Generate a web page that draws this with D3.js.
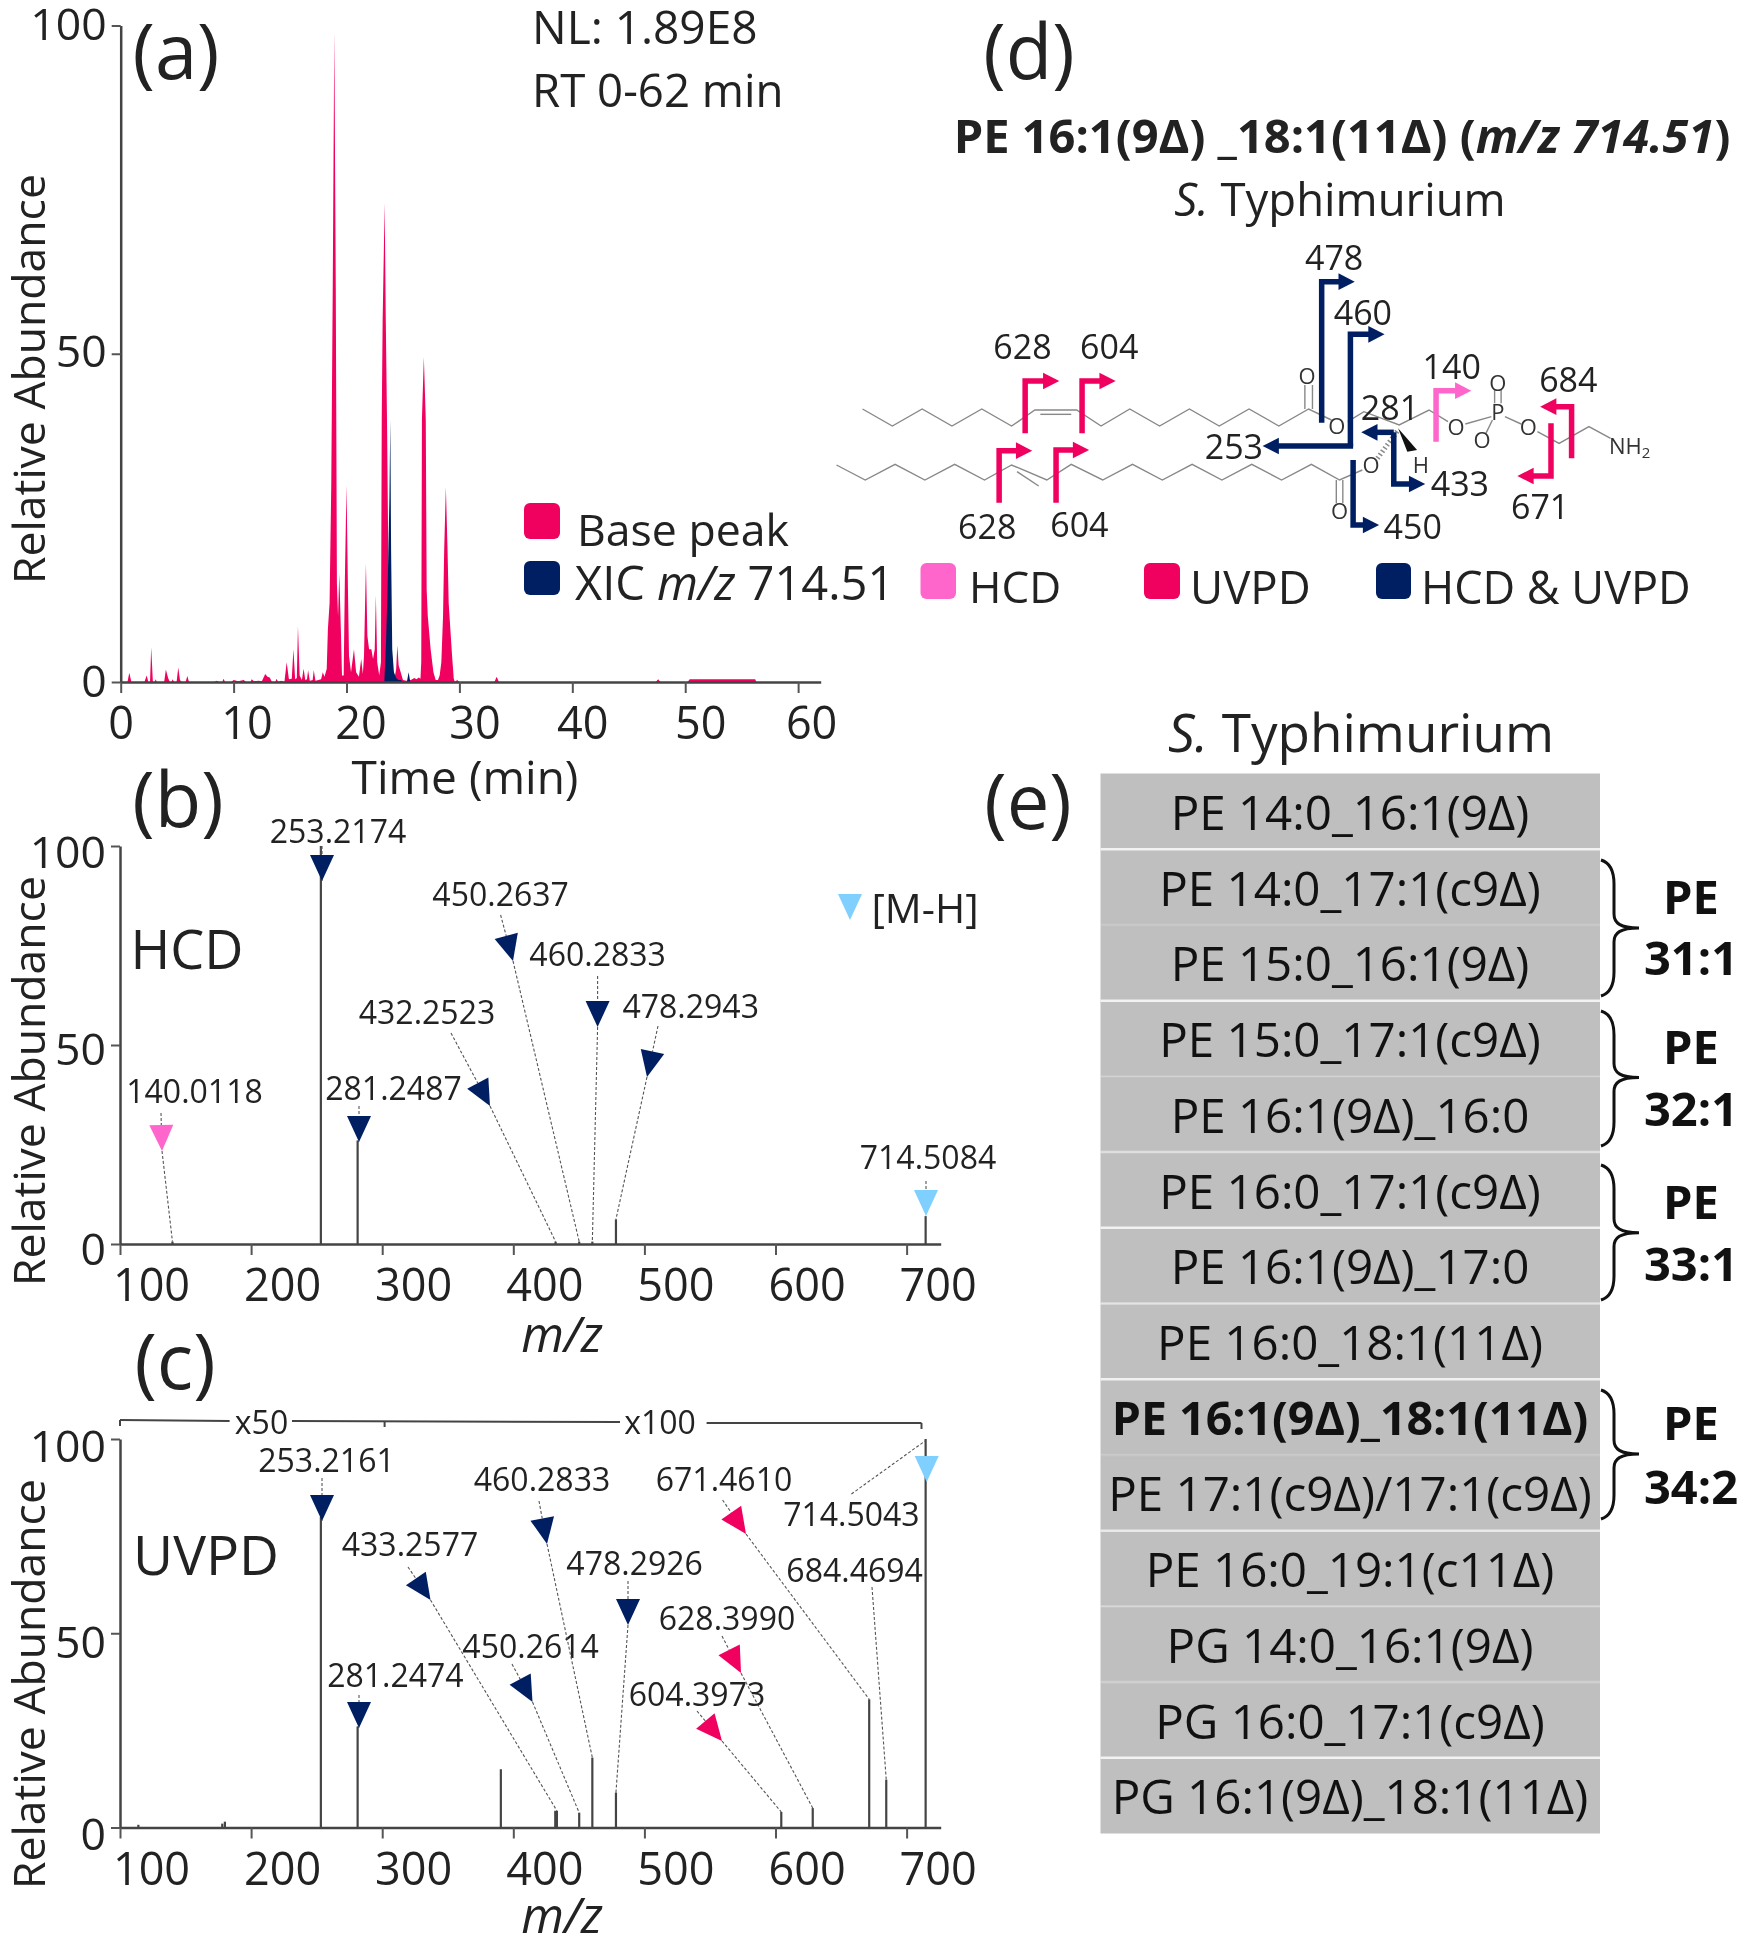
<!DOCTYPE html>
<html>
<head>
<meta charset="utf-8">
<script src="https://cdn.jsdelivr.net/npm/d3@7"></script>
<style>
body { margin: 0; background: #fff; }
svg { display: block; filter: blur(0.7px); }
text { font-family: "Open Sans", sans-serif; fill: #222; }
</style>
</head>
<body>
<div id="chart"></div>
<script>
// panel a, chromatogram
var timeMin = [0,0.6,0.76,0.95,2.1,2.3,2.45,2.6,2.7,2.85,3,3.1,3.2,3.85,4,4.2,4.35,4.5,4.6,4.72,4.95,5.1,5.25,5.4,5.75,5.9,6.05,
  8.3,8.5,8.7,9,9.1,9.25,9.8,10,10.4,10.9,11.1,11.5,11.6,11.8,12.2,12.5,12.8,13,13.2,13.4,13.7,13.8,13.95,14.2,14.5,14.7,14.9,15.15,15.3,15.45,15.6,15.7,15.85,16.05,16.2,16.35,16.5,16.6,16.75,17,17.1,17.25,17.5,17.75,17.9,18.05,
  18.25,18.35,18.5,18.65,18.78,18.92,19.05,19.15,19.25,19.36,19.5,19.6,19.75,19.85,20,20.12,20.22,20.4,20.66,20.85,21.1,21.3,21.45,21.55,21.72,21.85,22,22.2,22.35,22.5,22.6,22.72,22.9,23.05,23.12,23.2,23.3,23.38,23.48,23.6,23.75,23.9,24.1,24.25,24.4,24.5,24.62,24.8,25,25.3,25.7,26,26.2,26.4,26.55,26.62,26.68,26.85,27.02,27.1,27.2,27.45,27.7,27.9,28.1,28.25,28.4,28.55,28.65,28.8,28.95,29.05,29.2,29.35,29.5,29.6,29.8,30,
  33.1,33.3,33.5,47.4,47.6,47.8,50.2,50.4,56.2,56.3,62];
var basePeak = [0,0,1.4,0,0,1,0,0,5.3,0,0,0.4,0,0,1.9,0.6,0,0,0.4,0,0,2.2,0.3,0,0,0.9,0,
  0,0.2,0,0,0.5,0,0,0.3,0.1,0.3,0,0,0.4,0.1,0.2,0.1,1.2,0.8,0.7,0,0,0.5,0,0.2,0,3,0.4,0.5,5,0.4,0.6,8.5,1,0.3,2,0.3,0.4,1.8,0.2,0.3,1.8,0.2,0.3,0.4,1.5,0.8,
  2,8,12,30,60,99,60,15,10,16.5,8,1,1,15,30,15,4,1.5,5,1.5,0.8,3.5,1.2,4,18,7,5,5,3.5,5,13.2,3,1,3,40,55,65,73,55,38,10,8,2,0.5,2,5.6,2.5,1.5,0.3,0.2,0.3,0.6,0.4,0.7,0.5,3,40,49.5,40,14,10,5,1.5,0.3,0.3,1,3,10,20,29.7,20,12,8,4,0.5,0,0.3,0,
  0,0.8,0,0,0.4,0,0,0.4,0.4,0,0];
var xicTime = [23.35,23.5,23.65,23.8,23.88,23.95,24.05,24.2,24.4,24.6,24.8,25,25.35,25.5,25.65];
var xicAbundance = [0,6,15,28,40,20,5,1.5,0.6,0.3,0.3,0,0,1.5,0];

// panels b and c, spectra
var hcdMz = [140.0118,253.2174,281.2487,432.2523,450.2637,460.2833,478.2943,714.5084];
var hcdAbundance = [0.6,100,26,0.6,0.6,0.6,6.2,7];
var uvpdMz = [114,178,180,253.2161,281.2474,390.5,432,433.2577,450.2614,460.2833,478.2926,604.3973,628.399,671.461,684.4694,714.5043];
var uvpdAbundance = [0.7,1,1.5,80,26,15,4.3,4.3,3.8,18,9,4,5,33,12.3,100];

var abundanceTicks = [0,50,100];
var timeTicks = [0,10,20,30,40,50,60];
var mzTicks = [100,200,300,400,500,600,700];

// panel e
var lipids = ["PE 14:0_16:1(9Δ)","PE 14:0_17:1(c9Δ)","PE 15:0_16:1(9Δ)","PE 15:0_17:1(c9Δ)","PE 16:1(9Δ)_16:0","PE 16:0_17:1(c9Δ)","PE 16:1(9Δ)_17:0",
  "PE 16:0_18:1(11Δ)","PE 16:1(9Δ)_18:1(11Δ)","PE 17:1(c9Δ)/17:1(c9Δ)","PE 16:0_19:1(c11Δ)","PG 14:0_16:1(9Δ)","PG 16:0_17:1(c9Δ)","PG 16:1(9Δ)_18:1(11Δ)"];
var dividerOpacity = [1,0.15,1,0.15,0.6,1,0.6,1,0.15,0.8,0.3,0.3,1];
var groupNames = ["31:1","32:1","33:1","34:2"];

var pink = "#f0005f", navy = "#001f63", hot = "#ff66cc", sky = "#7fcfff";

var svg = d3.select("#chart").append("svg").attr("width",1748).attr("height",1950);

function label(x, y, str, size, anchor) {
  return svg.append("text").attr("x",x).attr("y",y).attr("dy","0.35em")
    .attr("text-anchor",anchor || "middle").style("font-size",size+"px").text(str);
}

// labelDx per x tick, yDy per abundance tick (same order as abundanceTicks)
function axes(x, y, ticks, labelDx, yDy) {
  var gx = svg.append("g").attr("transform","translate(0,"+y.range()[0]+")")
    .call(d3.axisBottom(x).tickValues(ticks).tickSize(11).tickSizeOuter(0));
  gx.selectAll("text").attr("y",null).attr("dy",null).attr("transform",function(d,i) { return "translate("+labelDx[i]+",45)"; })
    .attr("dominant-baseline","middle").style("font-size","45px");
  var gy = svg.append("g").attr("transform","translate("+x.range()[0]+",0)")
    .call(d3.axisLeft(y).tickValues(abundanceTicks).tickSize(9).tickSizeOuter(0));
  gy.selectAll("text").attr("x",-14).attr("dy",null).attr("dominant-baseline","middle")
    .attr("transform",function(d,i) { return "translate(0,"+yDy[i]+")"; })
    .style("font-size","44.5px");
  svg.selectAll("g").attr("font-family",null);
  [gx,gy].forEach(function(g) {
    g.selectAll("path").attr("stroke","#444").attr("stroke-width",2.5);
    g.selectAll("line").attr("stroke","#555").attr("stroke-width",2);
  });
}

function ylabel(cy) {
  svg.append("text").attr("transform","translate(29,"+cy+") rotate(-90)").attr("dy","0.35em")
    .attr("text-anchor","middle").style("font-size","44.5px").text("Relative Abundance");
}

function sticks(x, y, mz, ab) {
  svg.selectAll(null).data(mz).enter().append("line")
    .attr("x1",function(d) { return x(d); }).attr("x2",function(d) { return x(d); })
    .attr("y1",y(0)).attr("y2",function(d,i) { return y(ab[i]); })
    .attr("stroke","#444").attr("stroke-width",2.2);
}

function leader(x1,y1,x2,y2) {
  svg.append("line").attr("x1",x1).attr("y1",y1).attr("x2",x2).attr("y2",y2)
    .attr("stroke","#555").attr("stroke-width",1.1).attr("stroke-dasharray","3,2");
}

// marker points along the label -> tip direction
function notes(list, x, y, mzs, abs) {
  list.forEach(function(n) {
    var i = mzs.indexOf(n.mz);
    label(n.lx,n.ly,n.mz.toFixed(4),32);
    if (n.tx == null) { leader(n.ax,n.ay,x(n.mz),y(abs[i])); return; }
    var dx = n.tx-n.ax, dy = n.ty-n.ay, len = Math.sqrt(dx*dx+dy*dy);
    dx /= len; dy /= len;
    var bx = n.tx-26*dx, by = n.ty-26*dy;
    if (!n.noLead) leader(n.ax,n.ay,bx,by);
    if (!n.noLead) leader(n.tx,n.ty,x(n.mz),y(abs[i]));
    svg.append("polygon").attr("fill",n.c)
      .attr("points",[[bx-12*dy,by+12*dx],[bx+12*dy,by-12*dx],[n.tx,n.ty]].join(" "));
  });
}

// ---- (a)
var xa = d3.scaleLinear().domain([0,62]).range([120.7,820.7]);
var ya = d3.scaleLinear().domain([0,100]).range([682,25.5]);
var baseArea = d3.area().x(function(d,i) { return xa(timeMin[i]); }).y0(ya(0)).y1(function(d) { return ya(d); });
var xicArea = d3.area().x(function(d,i) { return xa(xicTime[i]); }).y0(ya(0)).y1(function(d) { return ya(d); });
svg.append("path").datum(basePeak).attr("d",baseArea).attr("fill",pink);
svg.append("path").datum(xicAbundance).attr("d",xicArea).attr("fill",navy);
axes(xa,ya,timeTicks,[0,13,14,15,10,15,13],[3,1,2]);
ylabel(379);
label(176,52,"(a)",76);
label(532,28,"NL: 1.89E8",46,"start");
label(532,91,"RT 0-62 min",45.6,"start");
label(465,778,"Time (min)",46);

svg.append("rect").attr("x",524).attr("y",503).attr("width",36).attr("height",36).attr("rx",6).attr("fill",pink);
svg.append("rect").attr("x",524).attr("y",561).attr("width",36).attr("height",34).attr("rx",6).attr("fill",navy);
label(577,530,"Base peak",44.6,"start");
var xicLabel = label(575,584,"XIC ",47,"start");
xicLabel.append("tspan").style("font-style","italic").text("m/z");
xicLabel.append("tspan").text(" 714.51");

// ---- (b)
var xb = d3.scaleLinear().domain([100,726]).range([120,940.7]);
var yb = d3.scaleLinear().domain([0,100]).range([1244,846]);
var mzDx = [31,31,31,31,31,31,31];
sticks(xb,yb,hcdMz,hcdAbundance);
axes(xb,yb,mzTicks,mzDx,[9,8,10]);
ylabel(1081);
label(178,800,"(b)",76);
label(187,950,"HCD",54);
label(562,1335,"m/z",49).style("font-style","italic");
notes([
  {mz:140.0118,lx:194.5,ly:1092,ax:161,ay:1113,tx:162,ty:1151,c:hot},
  {mz:253.2174,lx:338,ly:832,ax:322,ay:846,tx:322,ty:881,c:navy},
  {mz:281.2487,lx:393.5,ly:1089,ax:359,ay:1106,tx:359,ty:1142,c:navy},
  {mz:432.2523,lx:427,ly:1013,ax:451,ay:1033,tx:490,ty:1106,c:navy},
  {mz:450.2637,lx:500.6,ly:895,ax:500.6,ay:915,tx:513,ty:961,c:navy},
  {mz:460.2833,lx:597.6,ly:955,ax:597.6,ay:976,tx:597.6,ty:1027,c:navy},
  {mz:478.2943,lx:690.7,ly:1007,ax:658,ay:1026,tx:647,ty:1077,c:navy},
  {mz:714.5084,lx:928,ly:1158,ax:926,ay:1181,tx:926,ty:1216,c:sky}
],xb,yb,hcdMz,hcdAbundance);
svg.append("polygon").attr("fill",sky).attr("points","838,894 862,894 850,920");
label(925,909,"[M-H]",41);

// ---- (c)
var xc = d3.scaleLinear().domain([100,726]).range([120,940.7]);
var yc = d3.scaleLinear().domain([0,100]).range([1827.5,1439]);
sticks(xc,yc,uvpdMz,uvpdAbundance);
axes(xc,yc,mzTicks,mzDx,[10,12,11]);
ylabel(1684);
label(175,1362,"(c)",76);
label(206,1556,"UVPD",55);
label(562,1916,"m/z",49).style("font-style","italic");
notes([
  {mz:253.2161,lx:326.5,ly:1461,ax:322,ay:1478,tx:322,ty:1521,c:navy},
  {mz:281.2474,lx:395.4,ly:1676,ax:359,ay:1695,tx:359,ty:1728,c:navy},
  {mz:433.2577,lx:410,ly:1545,ax:408,ay:1567,tx:430.5,ty:1600,c:navy},
  {mz:450.2614,lx:530.6,ly:1647,ax:512,ay:1664,tx:532.5,ty:1702,c:navy},
  {mz:460.2833,lx:542,ly:1480,ax:539,ay:1501,tx:547,ty:1544,c:navy},
  {mz:478.2926,lx:634.6,ly:1564,ax:628,ay:1581,tx:628,ty:1625,c:navy},
  {mz:671.461,lx:724,ly:1480,ax:722.6,ay:1500,tx:746,ty:1534,c:pink},
  {mz:628.399,lx:727,ly:1619,ax:722,ay:1636,tx:741,ty:1673,c:pink},
  {mz:604.3973,lx:697,ly:1695,ax:697,ay:1711,tx:722,ty:1741,c:pink},
  {mz:684.4694,lx:854.6,ly:1571,ax:872,ay:1587},
  {mz:714.5043,lx:851.4,ly:1515,ax:926.7,ay:1450,tx:926.7,ty:1482,c:sky,noLead:true}
],xc,yc,uvpdMz,uvpdAbundance);
leader(851.4,1494,925,1441);

// scaling bar over panel c
[[120,1420,229.6,1421],[292,1421,620,1422],[706.6,1423,921.5,1423],[120,1420,120,1426],[384.6,1421,384.6,1427],[921.5,1423,921.5,1429]].forEach(function(s) {
  svg.append("line").attr("x1",s[0]).attr("y1",s[1]).attr("x2",s[2]).attr("y2",s[3]).attr("stroke","#444").attr("stroke-width",2);
});
label(261.5,1423,"x50",32);
label(660,1423,"x100",32);

// ---- (d) structure, coordinates measured on a zoomed crop
var sx = d3.scaleLinear().domain([0,1568]).range([830,1680]);
var sy = d3.scaleLinear().domain([0,1200]).range([220,620]);
var bonds = [
  [[60,567],[115,618],[170,567],[225,618],[280,567],[335,618],[378,570],[455,570],[500,618],[553,567],[608,618],[663,567],[718,618],[773,567],[828,618],[883,567],[925,600]],
  [[388,583],[445,583]],[[876,567],[876,495]],[[890,567],[890,495]],
  [[955,605],[985,575],[1050,615],[1105,570],[1140,605]],[[1172,612],[1220,590]],[[1226,550],[1226,510]],[[1238,550],[1238,510]],[[1222,600],[1210,640]],
  [[1245,590],[1275,612]],[[1305,635],[1345,670],[1400,620],[1440,655]],
  [[12,735],[65,780],[120,733],[175,780],[230,733],[285,780],[335,735],[400,780],[445,733],[503,780],[558,733],[613,780],[668,733],[723,780],[778,733],[833,780],[888,733],[940,780],[982,750]],
  [[345,755],[385,798]],[[934,780],[934,850]],[[946,780],[946,850]]
];
var bondLine = d3.line().x(function(d) { return sx(d[0]); }).y(function(d) { return sy(d[1]); });
bonds.forEach(function(b) {
  svg.append("path").attr("d",bondLine(b)).attr("fill","none").attr("stroke","#888").attr("stroke-width",1.4);
});
svg.append("path").attr("d",bondLine([[1010,715],[1048,630]])).attr("stroke","#888").attr("stroke-width",5).attr("stroke-dasharray","1.5,2.5").attr("fill","none");
svg.append("path").attr("d",bondLine([[1048,625],[1065,695],[1083,690]])+"Z").attr("fill","#111");
[["O",880,470],["O",935,620],["O",998,735],["O",940,875],["O",1155,622],["O",1203,660],["O",1288,622],["O",1232,490],["P",1232,577],["H",1090,735]].forEach(function(a) {
  label(sx(a[1]),sy(a[2]),a[0],22).style("fill","#333");
});
var nh2 = label(sx(1437),sy(678),"NH",22,"start").style("fill","#333");
nh2.append("tspan").attr("dy","0.3em").style("font-size","15px").text("2");

// fragment arrows: polyline then head at the last point
function arrow(pts, color) {
  var n = pts.length, a = pts[n-2], b = pts[n-1];
  var dir = b[0] > a[0] ? 1 : -1;
  var line = pts.slice(0,n-1).concat([[b[0]-dir*28,b[1]]]);
  svg.append("path").attr("d",bondLine(line)).attr("fill","none").attr("stroke",color).attr("stroke-width",5.5);
  svg.append("path").attr("d",bondLine([[b[0]-dir*30,b[1]-25],[b[0],b[1]],[b[0]-dir*30,b[1]+25]])+"Z").attr("fill",color);
}
arrow([[360,640],[360,483],[423,483]],pink);
arrow([[465,640],[465,483],[527,483]],pink);
arrow([[312,848],[312,692],[373,692]],pink);
arrow([[417,848],[417,690],[478,690]],pink);
arrow([[1118,665],[1118,512],[1183,512]],hot);
arrow([[1368,715],[1368,560],[1310,560]],pink);
arrow([[1330,610],[1330,768],[1268,768]],pink);
arrow([[907,608],[907,185],[968,185]],navy);
arrow([[960,680],[960,343],[1023,343]],navy);
arrow([[965,678],[798,678]],navy);
arrow([[1040,637],[980,637]],navy);
arrow([[1040,637],[1040,792],[1098,792]],navy);
arrow([[965,720],[965,915],[1013,915]],navy);
[["478",930,115],["460",983,278],["628",355,380],["604",515,380],["628",290,920],["604",460,915],["281",1033,563],["140",1147,440],["684",1362,480],["253",745,680],["433",1162,792],["671",1310,860],["450",1075,922]].forEach(function(a) {
  label(sx(a[1]),sy(a[2]),a[0],34);
});

label(1029,52,"(d)",76);
var title = label(1342,137,"PE 16:1(9Δ) _18:1(11Δ) (",47).style("font-weight",700);
title.append("tspan").style("font-style","italic").text("m/z 714.51");
title.append("tspan").text(")");
var sub = label(1340,200,"",45.5);
sub.append("tspan").style("font-style","italic").text("S.");
sub.append("tspan").text(" Typhimurium");

svg.append("rect").attr("x",920.5).attr("y",563).attr("width",35.5).attr("height",36).attr("rx",6).attr("fill",hot);
svg.append("rect").attr("x",1144).attr("y",563).attr("width",36).attr("height",36).attr("rx",6).attr("fill",pink);
svg.append("rect").attr("x",1376).attr("y",563).attr("width",35).attr("height",36).attr("rx",6).attr("fill",navy);
label(969,588,"HCD",44,"start");
label(1190,588,"UVPD",45.5,"start");
label(1421,588,"HCD & UVPD",45,"start");

// ---- (e) table
label(1028,802,"(e)",76);
var etitle = label(1361,733,"",53);
etitle.append("tspan").style("font-style","italic").text("S.");
etitle.append("tspan").text(" Typhimurium");

var rowScale = d3.scaleBand().domain(d3.range(lipids.length)).range([773.5,1833.5]);
svg.append("g").selectAll("rect").data(lipids).enter().append("rect")
  .attr("x",1100.5).attr("width",499.5)
  .attr("y",function(d,i) { return rowScale(i); })
  .attr("height",rowScale.bandwidth()).attr("fill","#bfbfbf");
svg.append("g").selectAll("line").data(dividerOpacity).enter().append("line")
  .attr("x1",1100.5).attr("x2",1600)
  .attr("y1",function(d,i) { return rowScale(i+1); }).attr("y2",function(d,i) { return rowScale(i+1); })
  .attr("stroke","#f2f2f2").attr("stroke-width",2.5).attr("opacity",function(d) { return d; });
lipids.forEach(function(d,i) {
  label(1350,rowScale(i)+rowScale.bandwidth()/2+2,d,i==8?46.5:47.5).style("font-weight",i==8?700:400).style("fill","#111");
});

// braces with the group names
var braceBox = [[860,928,996],[1011,1077.5,1146],[1165,1232.7,1300],[1390,1454,1519]];
var groupY = [[898,959],[1048,1110],[1203,1265],[1424,1488]];
groupNames.forEach(function(g,i) {
  var b = braceBox[i];
  svg.append("path").attr("fill","none").attr("stroke","#111").attr("stroke-width",3)
    .attr("d","M1601,"+b[0]+"C1611,"+(b[0]+3)+" 1614,"+(b[0]+12)+" 1614,"+(b[0]+24)
      +"L1614,"+(b[1]-14)+"C1614,"+(b[1]-5)+" 1620,"+b[1]+" 1639,"+b[1]
      +"C1620,"+b[1]+" 1614,"+(b[1]+5)+" 1614,"+(b[1]+14)
      +"L1614,"+(b[2]-24)+"C1614,"+(b[2]-12)+" 1611,"+(b[2]-3)+" 1601,"+b[2]);
  label(1691,groupY[i][0],"PE",47).style("font-weight",700).style("fill","#111");
  label(1691,groupY[i][1],g,47).style("font-weight",700).style("fill","#111");
});
</script>
</body>
</html>
